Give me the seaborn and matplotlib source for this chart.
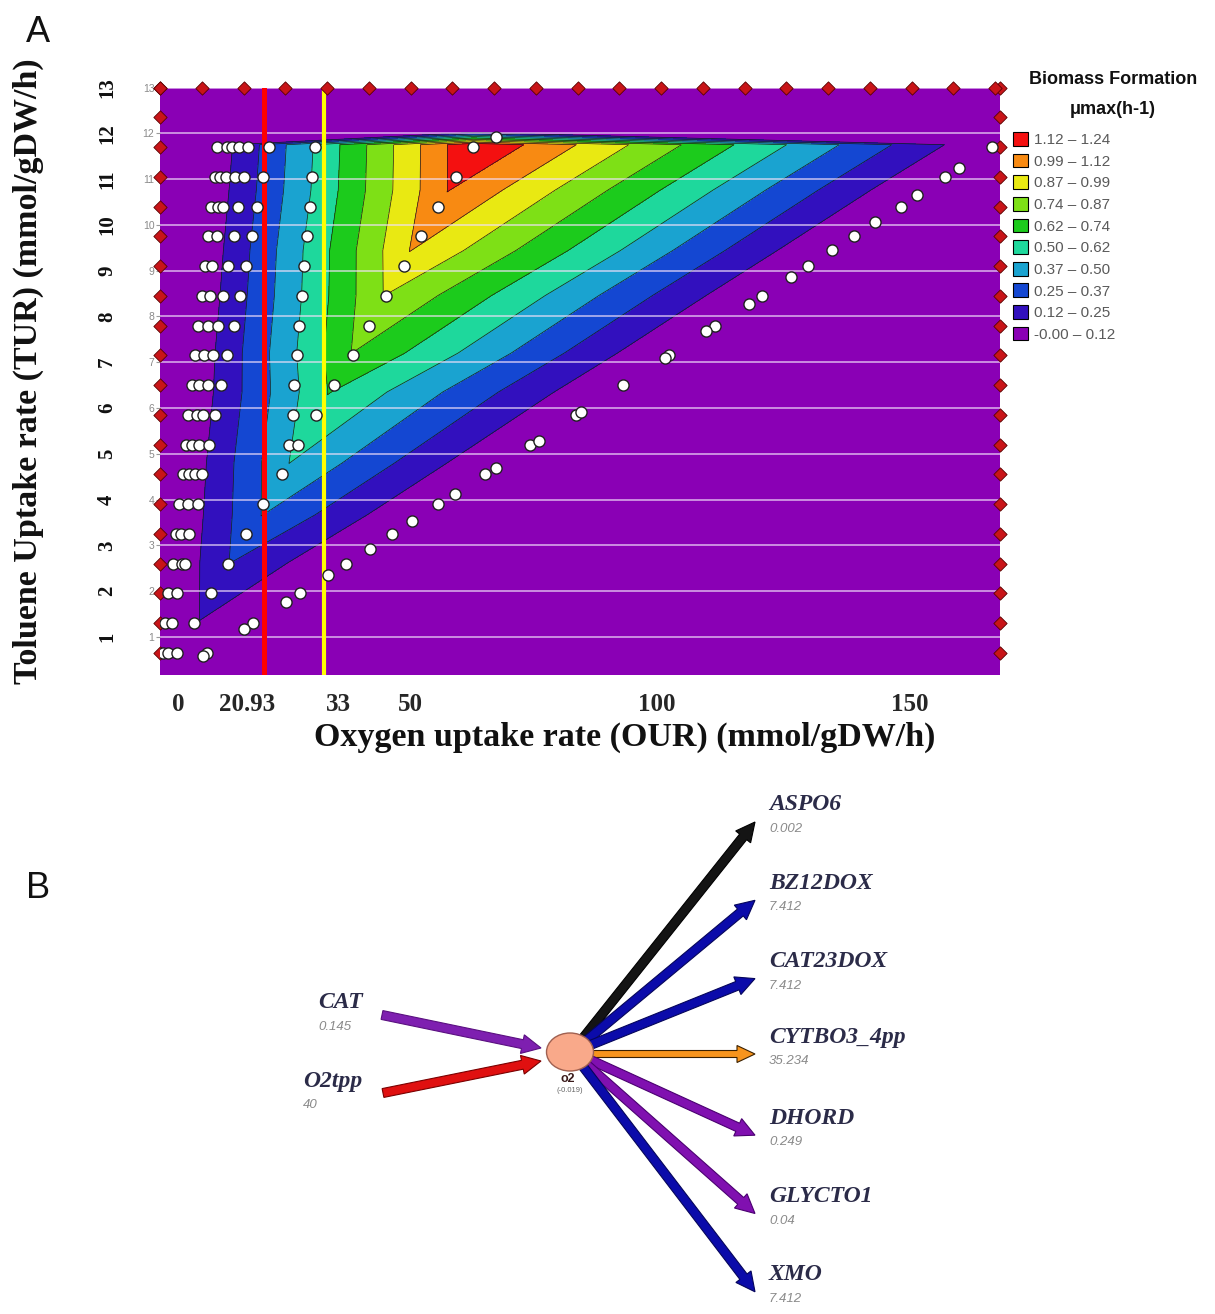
import numpy as np
import matplotlib
matplotlib.use("Agg")
import matplotlib.pyplot as plt
import matplotlib.transforms as mtransforms
from matplotlib.patches import Patch, Ellipse, FancyArrow
import seaborn as sns

sns.set_theme(style="white")
plt.rcParams["font.family"] = ["Liberation Sans", "DejaVu Sans"]

W, H = 1215, 1314

# ---------------- Panel A data (phenotype phase plane) ----------------
OUR_MAX = 169.0
TUR_MIN, TUR_MAX = 0.17, 13.0

# contour mesh: per TUR row, the OUR where growth is 0 on
# the left, the ridge (line of optimality) with its growth, and the OUR where growth is 0 on the right
ROW_TUR    = [0.17, 1.37, 2.62, 3.67, 4.80, 6.35, 7.20, 8.46, 9.44, 10.76, 11.75, 12.05, 13.00]
LEFT_ZERO  = [0.3, 1.2, 2.1, 2.9, 3.8, 5.0, 5.6, 6.6, 7.4, 8.4, 9.2, 9.2, 9.2]
RIDGE_OUR  = [0.8, 8.0, 14.0, 20.5, 26.0, 34.0, 38.5, 45.0, 50.3, 58.0, 63.0, 63.0, 63.0]
RIDGE_MU   = [0.0, 0.125, 0.25, 0.375, 0.497, 0.625, 0.745, 0.87, 0.995, 1.12, 1.235, 0.0, 0.0]
RIGHT_ZERO = [2.1, 19.3, 37.2, 52.2, 68.3, 90.5, 102.7, 120.7, 134.7, 153.6, 168.4, 168.4, 168.4]

LEVELS = [-0.005, 0.124, 0.248, 0.372, 0.496, 0.62, 0.744, 0.868, 0.992, 1.116, 1.24]
BAND_LABELS = ["-0.00 \u2013 0.12", "0.12 \u2013 0.25", "0.25 \u2013 0.37", "0.37 \u2013 0.50",
               "0.50 \u2013 0.62", "0.62 \u2013 0.74", "0.74 \u2013 0.87", "0.87 \u2013 0.99",
               "0.99 \u2013 1.12", "1.12 \u2013 1.24"]
BAND_COLORS = ["#8A00B5", "#3210BE", "#1447D2", "#1AA3D0", "#1ED89C",
               "#1CCB1C", "#7EE016", "#E9E912", "#F88A12", "#F41010"]

# sampled points (white dots)
DOT_OUR = [11.4, 13.4, 14.4, 15.8, 17.8, 22.0, 31.2, 63.0, 167.3,
           11.1, 12.1, 13.3, 15.1, 16.9, 20.8, 30.6, 59.6, 158.0,
           10.3, 11.7, 12.7, 15.6, 19.5, 30.2, 56.0, 149.0,
           9.6, 11.4, 14.8, 18.6, 29.6, 52.5, 139.7,
           9.1, 10.4, 13.7, 17.3, 29.0, 49.0, 130.3,
           8.4, 10.1, 12.7, 16.0, 28.5, 45.5, 121.1,
           7.7, 9.7, 11.7, 14.9, 28.0, 42.1, 111.7,
           7.0, 8.9, 10.7, 13.5, 27.5, 38.8, 102.5,
           6.4, 7.9, 9.7, 12.2, 27.0, 35.0, 93.1,
           5.7, 7.4, 8.7, 11.1, 26.7, 31.4, 83.7,
           5.2, 6.4, 7.9, 9.8, 26.0, 27.8, 74.4,
           4.6, 5.9, 7.0, 8.5, 24.5, 65.3,
           3.9, 5.7, 7.6, 20.8, 56.0,
           3.2, 4.2, 5.9, 17.3, 46.7,
           2.7, 4.4, 5.0, 13.7, 37.4,
           1.7, 3.5, 10.3, 28.2,
           1.0, 2.4, 6.9, 18.8,
           0.7, 1.7, 3.5, 9.5,
           67.6, 160.8, 152.4, 143.9, 135.3, 127.0, 118.5, 109.9, 101.6,
           84.7, 76.3, 67.6, 59.4, 50.8, 42.3, 33.7, 25.4, 16.8, 8.7]
DOT_TUR = [11.7] * 9 + [11.05] * 9 + [10.4] * 8 + [9.75] * 7 + [9.1] * 7 + [8.45] * 7 + \
          [7.8] * 7 + [7.15] * 7 + [6.5] * 7 + [5.85] * 7 + [5.2] * 7 + [4.55] * 6 + \
          [3.9] * 5 + [3.25] * 5 + [2.6] * 5 + [1.95] * 4 + [1.3] * 4 + [0.65] * 4 + \
          [11.91, 11.24, 10.65, 10.06, 9.46, 8.86, 8.28, 7.68, 7.09,
           5.91, 5.29, 4.70, 4.12, 3.54, 2.92, 2.35, 1.76, 1.17, 0.59]

# sampling grid markers along the borders
SAMPLE_TUR = [0.65, 1.3, 1.95, 2.6, 3.25, 3.9, 4.55, 5.2, 5.85, 6.5,
              7.15, 7.8, 8.45, 9.1, 9.75, 10.4, 11.05, 11.7, 12.35, 13.0]
SAMPLE_OUR = [0, 8.4, 16.8, 25.2, 33.6, 42.0, 50.4, 58.8, 67.2, 75.6, 84.0,
              92.4, 100.8, 109.2, 117.6, 126.0, 134.4, 142.8, 151.2, 159.6, 168.0]

X_TICKS = [0, 20.93, 33, 50, 100, 150]
X_TICK_LABELS = ["0", "20.93", "33", "50", "100", "150"]
X_LABEL_SHIFT_PX = [18, -17, 14, 2, 0, 4]
Y_TICKS = list(range(1, 14))
OUR_LINES = [20.93, 33]

# ---------------- Panel B data (o2 flux map) ----------------
MET_NAME, MET_VALUE = "o2", "(-0.019)"
IN_RXNS = ["CAT", "O2tpp"]
IN_FLUX = ["0.145", "40"]
IN_COLORS = ["#7E1FB0", "#E01010"]
IN_EDGES = ["#5A1080", "#7A0000"]
OUT_RXNS = ["ASPO6", "BZ12DOX", "CAT23DOX", "CYTBO3_4pp", "DHORD", "GLYCTO1", "XMO"]
OUT_FLUX = ["0.002", "7.412", "7.412", "35.234", "0.249", "0.04", "7.412"]
OUT_COLORS = ["#141414", "#0B0BAA", "#0B0BAA", "#F7941D", "#8010B0", "#8010B0", "#0B0BAA"]
OUT_EDGES = ["#000000", "#05055A", "#05055A", "#3A2000", "#4A0070", "#4A0070", "#05055A"]

# ======================================================================
fig = plt.figure(figsize=(W / 100, H / 100), dpi=100)

axA = fig.add_axes([160 / W, 1 - 675 / H, 840 / W, 587.5 / H])
Xg = np.array([[0.0, l, r, rz, OUR_MAX] for l, r, rz in zip(LEFT_ZERO, RIDGE_OUR, RIGHT_ZERO)])
Yg = np.repeat(np.array(ROW_TUR)[:, None], 5, axis=1)
Zg = np.array([[0.0, 0.0, m, 0.0, 0.0] for m in RIDGE_MU])
axA.contourf(Xg, Yg, Zg, levels=LEVELS, colors=BAND_COLORS, zorder=1)
axA.contour(Xg, Yg, Zg, levels=LEVELS[1:-1], colors="#1a1a1a", linewidths=0.5, zorder=2)

axA.set_xlim(0, OUR_MAX)
axA.set_ylim(TUR_MIN, TUR_MAX)
for s in axA.spines.values():
    s.set_visible(False)

# grid
axA.set_axisbelow(False)
axA.set_xticks([50, 100, 150], minor=True)
axA.set_yticks(Y_TICKS)
axA.grid(True, which="major", axis="y", color="#F2E0FA", lw=1.1, alpha=0.8)
axA.grid(True, which="minor", axis="x", color="#F2E0FA", lw=1.1, alpha=0.8)
axA.grid(False, which="major", axis="x")

for xv, col, lw in zip(OUR_LINES, ["#FF0000", "#FFFF00"], [3.6, 3.0]):
    axA.axvline(xv, color=col, lw=lw, zorder=3)

# sampling markers on borders
left_x = [0.0] * len(SAMPLE_TUR)
right_x = [OUR_MAX] * len(SAMPLE_TUR)
top_y = [TUR_MAX] * len(SAMPLE_OUR)
sns.scatterplot(x=left_x + right_x + SAMPLE_OUR, y=SAMPLE_TUR + SAMPLE_TUR + top_y,
                ax=axA, marker="D", s=46, color="#C81418", edgecolor="#5A0000",
                linewidth=0.6, clip_on=False, zorder=6, legend=False)
sns.scatterplot(x=DOT_OUR, y=DOT_TUR, ax=axA, s=64, color="white", edgecolor="#202020",
                linewidth=1.0, zorder=7, legend=False)

# ticks
axA.set_xticks(X_TICKS)
axA.set_xticklabels(X_TICK_LABELS)
axA.tick_params(axis="x", which="both", length=0, pad=13, labelsize=18)
for lab, sh in zip(axA.get_xticklabels(), X_LABEL_SHIFT_PX):
    lab.set_fontfamily("Liberation Serif")
    lab.set_fontweight("bold")
    lab.set_transform(lab.get_transform() +
                      mtransforms.ScaledTranslation(sh / 100, 0, fig.dpi_scale_trans))
axA.set_yticklabels([str(v) for v in Y_TICKS])
axA.tick_params(axis="y", which="major", length=3, width=0.8, color="#9a9a9a",
                left=True, pad=1, labelsize=7.5, labelcolor="#8a8a8a")

# outer bold y labels
trans = mtransforms.blended_transform_factory(axA.transAxes, axA.transData)
for v in Y_TICKS:
    axA.text(-0.063, v, str(v), transform=trans, rotation=90, ha="center", va="center",
             fontsize=15, fontweight="bold", family="Liberation Serif", color="#111111")

axA.set_xlabel("Oxygen uptake rate (OUR) (mmol/gDW/h)", fontsize=24.5, fontweight="bold",
               family="Liberation Serif", color="#111111")
axA.xaxis.set_label_coords((625 - 160) / 840, (675 - 737) / 587.5)
axA.xaxis.label.set_va("center")
axA.set_ylabel("Toluene Uptake rate (TUR) (mmol/gDW/h)", fontsize=24.5, fontweight="bold",
               family="Liberation Serif", color="#111111")
axA.yaxis.set_label_coords((28 - 160) / 840, (675 - 371) / 587.5)
axA.yaxis.label.set_va("center")

# legend
fig.text(1113 / W, 1 - 80 / H, "Biomass Formation", ha="center", va="center",
         fontsize=13, fontweight="bold", color="#111111")
fig.text(1113 / W, 1 - 110 / H, "\u03bcmax(h-1)", ha="center", va="center",
         fontsize=13, fontweight="bold", color="#111111")
handles = [Patch(facecolor=c, edgecolor="black", lw=0.8) for c in BAND_COLORS[::-1]]
fig.legend(handles, BAND_LABELS[::-1], loc="upper left", bbox_to_anchor=(1013 / W, 1 - 132 / H),
           frameon=False, fontsize=11, handlelength=1.0, handleheight=1.0, handletextpad=0.4,
           labelspacing=0.43, borderpad=0, borderaxespad=0, labelcolor="#5a5a5a")

fig.text(38 / W, 1 - 32 / H, "A", ha="center", va="center", fontsize=26, color="#111111")
fig.text(38 / W, 1 - 888 / H, "B", ha="center", va="center", fontsize=26, color="#111111")

# ---------------- Panel B ----------------
axB = fig.add_axes([0, 0, 1, 534 / H])
axB.set_xlim(0, W)
axB.set_ylim(H, 780)
axB.axis("off")

node = (570.0, 1052.0)


def arrow(x0, y0, x1, y1, fc, ec, width=9.0, hw=19.0, hl=19.0, z=2):
    axB.add_patch(FancyArrow(x0, y0, x1 - x0, y1 - y0, width=width, head_width=hw,
                             head_length=hl, length_includes_head=True, fc=fc, ec=ec,
                             lw=0.8, zorder=z))


serif_bi = dict(family="Liberation Serif", fontweight="bold", fontstyle="italic", color="#2B2B48")
val_it = dict(family="Liberation Sans", fontstyle="italic", color="#8a8a8a")

for i, (name, flux, fc, ec) in enumerate(zip(OUT_RXNS, OUT_FLUX, OUT_COLORS, OUT_EDGES)):
    ty = 822 + 78.3 * i
    tx = 755.0
    d = np.array([tx - node[0], ty - node[1]])
    d = d / np.hypot(*d)
    sx, sy = node[0] + 20 * d[0], node[1] + 17 * d[1]
    if name == "CYTBO3_4pp":
        arrow(sx, 1054, tx, 1054, fc, ec, width=7.0, hw=17.0, hl=18.0)
        ty = 1054
    else:
        arrow(sx, sy, tx, ty, fc, ec)
    axB.text(769, ty - 17, name, ha="left", va="center", fontsize=17, **serif_bi)
    axB.text(769, ty + 7, flux, ha="left", va="center", fontsize=9.5, **val_it)

in_starts = [(382, 1015), (383, 1093)]
in_tips = [(541, 1048), (541, 1061)]
in_lab_x = [318, 303]
for (x0, y0), (x1, y1), lx, name, flux, fc, ec in zip(in_starts, in_tips, in_lab_x, IN_RXNS,
                                                      IN_FLUX, IN_COLORS, IN_EDGES):
    arrow(x0, y0, x1, y1, fc, ec)
    axB.text(lx, y0 - 12, name, ha="left", va="center", fontsize=17, **serif_bi)
    axB.text(lx, y0 + 12, flux, ha="left", va="center", fontsize=9.5, **val_it)

axB.add_patch(Ellipse(node, 47, 38, fc="#F9A98A", ec="#A06050", lw=1.0, zorder=5))
axB.text(568, 1079, MET_NAME, ha="center", va="center", fontsize=9, fontweight="bold",
         color="#3A1A1A", zorder=6)
axB.text(570, 1090, MET_VALUE, ha="center", va="center", fontsize=5.5, color="#666666",
         zorder=6)

fig.savefig("out.png", dpi=100)
